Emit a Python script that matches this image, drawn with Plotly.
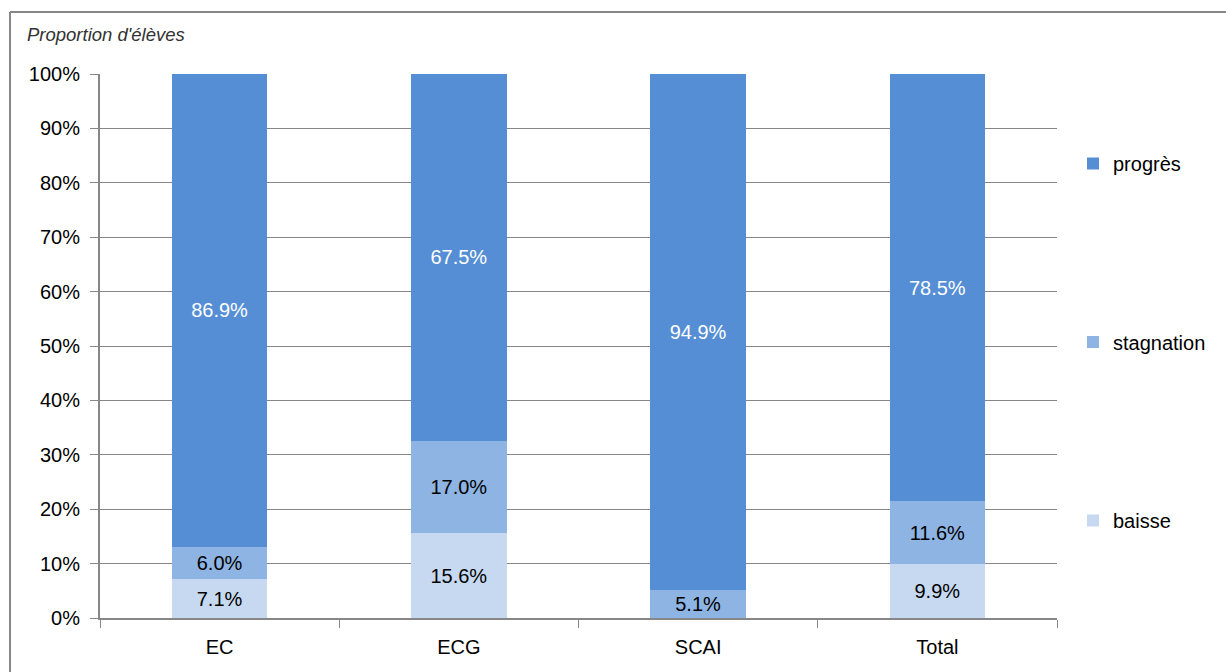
import plotly.graph_objects as go

categories = ["EC", "ECG", "SCAI", "Total"]
baisse = [7.1, 15.6, 0.0, 9.9]
stagnation = [6.0, 17.0, 5.1, 11.6]
progres = [86.9, 67.5, 94.9, 78.5]

# (name, values, fill, label colour, legend rank)
series = [
    ("baisse", baisse, "#C6D9F1", "#000000", 3),
    ("stagnation", stagnation, "#8EB4E3", "#000000", 2),
    ("progrès", progres, "#558ED5", "#FFFFFF", 1),
]

W, H = 1226, 672
L, R, T, B = 100, 169, 74, 54
pw, ph = W - L - R, H - T - B

def px_x(p):
    return (p - L) / pw

def px_y(p):
    return (H - B - p) / ph

fig = go.Figure()
for name, vals, color, tcolor, rank in series:
    fig.add_trace(go.Bar(
        x=categories,
        y=vals,
        name=name,
        legendgroup=name,
        legendrank=rank,
        marker=dict(color=color, line=dict(width=0)),
        text=[f"{v:.1f}%" if v > 0 else "" for v in vals],
        textposition="inside",
        insidetextanchor="middle",
        textangle=0,
        textfont=dict(family="Liberation Sans, Arial, sans-serif", size=20, color=tcolor),
        hoverinfo="skip",
    ))

grey = "#878787"
fig.update_layout(
    width=W, height=H,
    margin=dict(l=L, r=R, t=T, b=B, autoexpand=False),
    barmode="stack",
    bargap=0.6,
    plot_bgcolor="white",
    paper_bgcolor="white",
    font=dict(family="Liberation Sans, Arial, sans-serif", size=20, color="#000000"),
    uniformtext=dict(minsize=20, mode="show"),
    legend=dict(
        x=px_x(1073), y=px_y(144), xanchor="left", yanchor="top",
        traceorder="grouped",
        tracegroupgap=149.5,
        font=dict(size=20),
        itemwidth=30,
        bgcolor="rgba(0,0,0,0)",
    ),
    xaxis=dict(
        type="category",
        showline=True, linecolor=grey, linewidth=2,
        ticks="outside", ticklen=8, tickcolor=grey, tickwidth=1,
        tickson="boundaries",
        showgrid=False,
        ticklabelstandoff=10,
        tickfont=dict(size=20),
    ),
    yaxis=dict(
        range=[0, 100],
        dtick=10,
        ticksuffix="%",
        showline=True, linecolor=grey, linewidth=2,
        ticks="outside", ticklen=8, tickcolor=grey,
        showgrid=True, gridcolor=grey, gridwidth=1,
        zeroline=False,
        ticklabelstandoff=6,
        tickfont=dict(size=20),
    ),
    annotations=[dict(
        text="<i>Proportion d'élèves</i>",
        xref="paper", yref="paper",
        x=px_x(25), y=px_y(34),
        xanchor="left", yanchor="middle",
        showarrow=False,
        font=dict(size=18.5, color="#333333"),
    )],
    shapes=[
        dict(type="line", xref="paper", yref="paper",
             x0=px_x(10), x1=px_x(W + 5), y0=px_y(12), y1=px_y(12),
             line=dict(color=grey, width=2)),
        dict(type="line", xref="paper", yref="paper",
             x0=px_x(10), x1=px_x(10), y0=px_y(12), y1=px_y(H + 5),
             line=dict(color=grey, width=2)),
    ],
)

fig.write_html("out.html")
